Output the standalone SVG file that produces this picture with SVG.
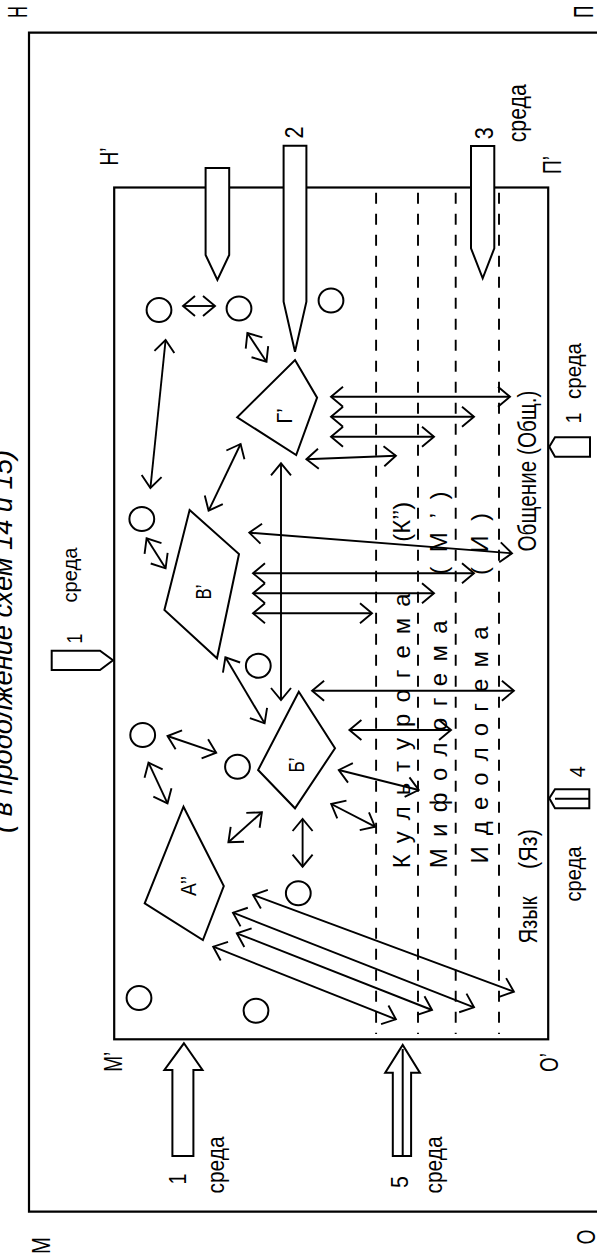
<svg xmlns="http://www.w3.org/2000/svg" width="597" height="1258" viewBox="0 0 597 1258">
<style>
.ln{stroke:#000;stroke-width:2;fill:none}
.fr{stroke:#000;stroke-width:2.2;fill:none}
.sh{stroke:#000;stroke-width:2;fill:#fff}
.dash{stroke:#000;stroke-width:1.9;stroke-dasharray:11 10;fill:none}
.ar{stroke:#000;stroke-width:1.9;fill:none;marker-start:url(#ah);marker-end:url(#ah)}
text{font-family:"Liberation Sans",Arial,sans-serif;fill:#000}
.c{text-anchor:middle}
</style>
<defs>
<marker id="ah" markerUnits="userSpaceOnUse" markerWidth="16" markerHeight="24" viewBox="0 0 16 24" refX="14" refY="12" orient="auto-start-reverse">
<path d="M2,2 L14,12 L2,22" fill="none" stroke="#000" stroke-width="1.9"/>
</marker>
</defs>
<rect width="597" height="1258" fill="#fff"/>

<!-- header -->
<text font-style="italic" font-size="28" transform="translate(12,833) rotate(-90)" textLength="383" lengthAdjust="spacingAndGlyphs">( в продолжение схем 14 и 15)</text>

<!-- outer frame -->
<g id="outer-frame">
<polyline class="fr" points="600,32.7 29,32.7 29,1211.7 600,1211.7"/>
<text class="c" font-size="27" transform="translate(27.3,12) rotate(-90)" textLength="11.5" lengthAdjust="spacingAndGlyphs">Н</text>
<text class="c" font-size="27" transform="translate(593.3,11.7) rotate(-90)" textLength="12" lengthAdjust="spacingAndGlyphs">П</text>
<text class="c" font-size="26" transform="translate(49.5,1245.5) rotate(-90)" textLength="17" lengthAdjust="spacingAndGlyphs">М</text>
<text class="c" font-size="25" transform="translate(595,1237) rotate(-90)" textLength="15" lengthAdjust="spacingAndGlyphs">О</text>
</g>

<!-- inner frame -->
<g id="inner-frame">
<rect class="fr" x="114.2" y="187.5" width="434" height="851.8"/>
<text class="c" font-size="26" transform="translate(118,156.5) rotate(-90)" textLength="18" lengthAdjust="spacingAndGlyphs">Н’</text>
<text class="c" font-size="26" transform="translate(561,165) rotate(-90)" textLength="18" lengthAdjust="spacingAndGlyphs">П’</text>
<text class="c" font-size="26" transform="translate(121.8,1061.7) rotate(-90)" textLength="20" lengthAdjust="spacingAndGlyphs">М’</text>
<text class="c" font-size="26" transform="translate(557.7,1062.5) rotate(-90)" textLength="19" lengthAdjust="spacingAndGlyphs">О’</text>
</g>

<!-- layer lines -->
<g id="layers">
<line class="dash" x1="376.1" y1="192.7" x2="376.1" y2="1034"/>
<line class="dash" x1="418" y1="192.7" x2="418" y2="1034"/>
<line class="dash" x1="455.7" y1="192.7" x2="455.7" y2="1034"/>
<line class="dash" x1="499" y1="192.7" x2="499" y2="1034"/>
</g>

<!-- environment inputs -->
<g id="pencil-top-a"><polygon class="sh" points="205.6,168 229.2,168 229.2,255 217.4,280 205.6,255"/></g>
<g id="pencil-2">
<polygon class="sh" points="283.6,145.7 306.4,145.7 306.4,301.7 295,351.7 283.6,301.7"/>
<text class="c" font-size="25" transform="translate(303,132.5) rotate(-90)" textLength="12" lengthAdjust="spacingAndGlyphs">2</text>
</g>
<g id="pencil-3">
<polygon class="sh" points="471,146 494.3,146 494.3,248.3 482.7,278.3 471,248.3"/>
<text class="c" font-size="25" transform="translate(493.3,133.3) rotate(-90)" textLength="12" lengthAdjust="spacingAndGlyphs">3</text>
<text class="c" font-size="25" transform="translate(526.3,113.3) rotate(-90)" textLength="58" lengthAdjust="spacingAndGlyphs">среда</text>
</g>
<g id="pencil-left-1">
<polygon class="sh" points="51.7,650.7 100,650.7 113,660.3 100,670 51.7,670"/>
<text class="c" font-size="22" transform="translate(81.7,638.5) rotate(-90)" textLength="10" lengthAdjust="spacingAndGlyphs">1</text>
<text class="c" font-size="21" transform="translate(76.5,575) rotate(-90)" textLength="55" lengthAdjust="spacingAndGlyphs">среда</text>
</g>
<g id="pencil-right-1">
<polygon class="sh" points="549.3,446.7 555,437.3 590,437.3 590,456.7 555,456.7"/>
<text class="c" font-size="22" transform="translate(581,418) rotate(-90)" textLength="11" lengthAdjust="spacingAndGlyphs">1</text>
<text class="c" font-size="22" transform="translate(581,371) rotate(-90)" textLength="56" lengthAdjust="spacingAndGlyphs">среда</text>
</g>
<g id="pencil-right-4">
<polygon class="sh" points="549.3,798.3 555,789.3 589.3,789.3 589.3,808.3 555,808.3"/>
<line class="ln" x1="555" y1="798.8" x2="589.3" y2="798.8"/>
<text class="c" font-size="22" transform="translate(585,771.7) rotate(-90)" textLength="11" lengthAdjust="spacingAndGlyphs">4</text>
<text class="c" font-size="22" transform="translate(581,874) rotate(-90)" textLength="55" lengthAdjust="spacingAndGlyphs">среда</text>
</g>
<g id="arrow-bottom-1">
<polygon class="sh" points="172.4,1156 193.4,1156 193.4,1070 202.5,1070 183.9,1043.3 164.4,1070 172.4,1070"/>
<text class="c" font-size="24" transform="translate(186,1179) rotate(-90)" textLength="11" lengthAdjust="spacingAndGlyphs">1</text>
<text class="c" font-size="24" transform="translate(224,1165) rotate(-90)" textLength="57" lengthAdjust="spacingAndGlyphs">среда</text>
</g>
<g id="arrow-bottom-5">
<polygon class="sh" points="392.8,1156 411.1,1156 411.1,1072.7 419.9,1072.7 402.7,1045 385.2,1072.7 392.8,1072.7"/>
<line class="ln" x1="402.7" y1="1049" x2="402.7" y2="1156"/>
<text class="c" font-size="24" transform="translate(408,1182) rotate(-90)" textLength="12" lengthAdjust="spacingAndGlyphs">5</text>
<text class="c" font-size="24" transform="translate(442,1165) rotate(-90)" textLength="57" lengthAdjust="spacingAndGlyphs">среда</text>
</g>

<!-- circles -->
<g id="circles" class="ln">
<ellipse cx="159" cy="310" rx="12.4" ry="12"/>
<ellipse cx="239" cy="308.5" rx="12.4" ry="12"/>
<ellipse cx="331" cy="300.5" rx="12.4" ry="12"/>
<ellipse cx="141.8" cy="519" rx="12.4" ry="12"/>
<ellipse cx="258.3" cy="665.8" rx="12.4" ry="12"/>
<ellipse cx="237.5" cy="766.7" rx="12.4" ry="12"/>
<ellipse cx="142.7" cy="735" rx="12.4" ry="12"/>
<ellipse cx="298.3" cy="893.3" rx="12.4" ry="12"/>
<ellipse cx="139" cy="998" rx="12.4" ry="12"/>
<ellipse cx="256" cy="1010.8" rx="12.4" ry="12"/>
</g>

<!-- nodes -->
<g id="node-G">
<polygon class="ln" points="295,360 317.1,397.7 296.2,455 237.2,417.3"/>
<text class="c" font-size="22" transform="translate(292,416) rotate(-90)" textLength="15" lengthAdjust="spacingAndGlyphs">Г’</text>
</g>
<g id="node-V">
<polygon class="ln" points="189.6,510 239,554 217,658.3 164.4,610"/>
<text class="c" font-size="22" transform="translate(211,592) rotate(-90)" textLength="15" lengthAdjust="spacingAndGlyphs">В’</text>
</g>
<g id="node-B">
<polygon class="ln" points="298.8,691.7 335,748.3 295,808.3 258.1,770"/>
<text class="c" font-size="22" transform="translate(304,765) rotate(-90)" textLength="15" lengthAdjust="spacingAndGlyphs">Б’</text>
</g>
<g id="node-A">
<polygon class="ln" points="183.5,806.7 223.8,886 202.9,940 144.7,903.3"/>
<text class="c" font-size="22" transform="translate(196,886) rotate(-90)" textLength="20" lengthAdjust="spacingAndGlyphs">А’’</text>
</g>

<!-- layer labels -->
<g id="labels">
<text font-size="24" transform="translate(409.5,868.3) rotate(-90)" textLength="275" lengthAdjust="spacing">К у л ь т у р о г е м а</text>
<text class="c" font-size="24" transform="translate(409.5,521.7) rotate(-90)" textLength="40" lengthAdjust="spacingAndGlyphs">(К’’)</text>
<text font-size="24" transform="translate(446.7,868.3) rotate(-90)" textLength="248" lengthAdjust="spacing">М и ф о л о г е м а</text>
<text class="c" font-size="24" transform="translate(446.7,533) rotate(-90)" textLength="83" lengthAdjust="spacing">( М ’ )</text>
<text font-size="24" transform="translate(488,863.5) rotate(-90)" textLength="237" lengthAdjust="spacing">И д е о л о г е м а</text>
<text class="c" font-size="24" transform="translate(488,544) rotate(-90)" textLength="62" lengthAdjust="spacing">( И )</text>
<text class="c" font-size="26" transform="translate(536,471) rotate(-90)" textLength="161" lengthAdjust="spacingAndGlyphs">Общение (Общ.)</text>
<text class="c" font-size="26" transform="translate(536.5,920) rotate(-90)" textLength="47" lengthAdjust="spacingAndGlyphs">Язык</text>
<text class="c" font-size="26" transform="translate(536.5,849) rotate(-90)" textLength="40" lengthAdjust="spacingAndGlyphs">(Яз)</text>
</g>

<!-- connectors -->
<g id="connectors">
<line class="ar" x1="183" y1="306" x2="215" y2="306"/>
<line class="ar" x1="165.6" y1="340" x2="150.4" y2="488"/>
<line class="ar" x1="247.4" y1="333" x2="266.5" y2="361.7"/>
<line class="ar" x1="240.6" y1="444" x2="208.6" y2="510.7"/>
<line class="ar" x1="331" y1="396.7" x2="510" y2="396.7"/>
<line class="ar" x1="331" y1="416.7" x2="474" y2="416.7"/>
<line class="ar" x1="331" y1="436.7" x2="434" y2="436.7"/>
<line class="ar" x1="306.4" y1="459.3" x2="395.9" y2="455.7"/>
<line class="ar" x1="281" y1="463.3" x2="281" y2="700"/>
<line class="ar" x1="146.6" y1="538.3" x2="165.6" y2="568.3"/>
<line class="ar" x1="249.3" y1="532.7" x2="512" y2="553.3"/>
<line class="ar" x1="253" y1="573.3" x2="474" y2="573.3"/>
<line class="ar" x1="253" y1="593.3" x2="434" y2="593.3"/>
<line class="ar" x1="253" y1="613.3" x2="372" y2="613.3"/>
<line class="ar" x1="225.4" y1="657.3" x2="264.6" y2="723.3"/>
<line class="ar" x1="312.1" y1="690.7" x2="513.9" y2="690.7"/>
<line class="ar" x1="349.4" y1="730" x2="451" y2="730"/>
<line class="ar" x1="338.8" y1="770" x2="418.7" y2="790"/>
<line class="ar" x1="331.2" y1="804" x2="375" y2="826.7"/>
<line class="ar" x1="302.6" y1="819" x2="302.6" y2="866.7"/>
<line class="ar" x1="261.9" y1="812.3" x2="228.4" y2="842.3"/>
<line class="ar" x1="167.5" y1="736" x2="216.2" y2="752.7"/>
<line class="ar" x1="148.5" y1="762.7" x2="167.5" y2="803.3"/>
<line class="ar" x1="253.1" y1="895" x2="513.9" y2="991.7"/>
<line class="ar" x1="233" y1="912.7" x2="474" y2="1007.3"/>
<line class="ar" x1="236.8" y1="933.3" x2="432" y2="1010"/>
<line class="ar" x1="213.2" y1="946.7" x2="395.9" y2="1019.3"/>
</g>
</svg>
